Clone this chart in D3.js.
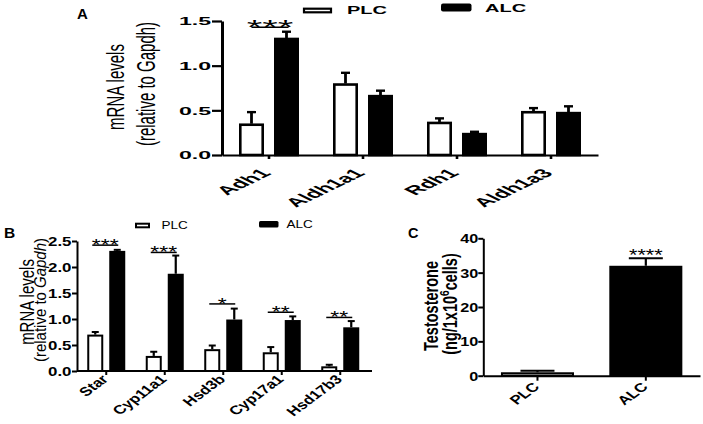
<!DOCTYPE html>
<html><head><meta charset="utf-8">
<script src="https://cdn.jsdelivr.net/npm/d3@7"></script>
<style>html,body{margin:0;padding:0;background:#fff;}svg{display:block;}</style>
</head><body>
<svg id="chart" width="703" height="424"></svg>
<script>
// ---------- DATA ----------
const groups = ["PLC", "ALC"];

// Panel A
const genesA = ["Adh1", "Aldh1a1", "Rdh1", "Aldh1a3"];
const plcA = [0.35, 0.80, 0.37, 0.49];
const plcAErr = [0.13, 0.12, 0.04, 0.035];
const alcA = [1.31, 0.67, 0.245, 0.48];
const alcAErr = [0.07, 0.05, 0.015, 0.065];
const sigA = ["***", "", "", ""];
const sigALevel = [1.43, null, null, null];
const ticksA = [0, 0.5, 1.0, 1.5];

// Panel B
const genesB = ["Star", "Cyp11a1", "Hsd3b", "Cyp17a1", "Hsd17b3"];
const plcB = [0.70, 0.29, 0.42, 0.36, 0.09];
const plcBErr = [0.05, 0.08, 0.07, 0.10, 0.03];
const alcB = [2.31, 1.87, 0.99, 0.98, 0.84];
const alcBErr = [0.02, 0.35, 0.21, 0.07, 0.12];
const sigB = ["***", "***", "*", "**", "**"];
const sigBLevel = [2.42, 2.28, 1.29, 1.13, 1.03];
const ticksB = [0, 0.5, 1.0, 1.5, 2.0, 2.5];

// Panel C
const groupsC = ["PLC", "ALC"];
const testoC = [1.0, 32.0];
const testoCErr = [0.45, 2.2];
const sigC = ["", "****"];
const ticksC = [0, 10, 20, 30, 40];

// ---------- HELPERS ----------
const FONT = "'Liberation Sans', Arial, Helvetica, sans-serif";
const svg = d3.select("#chart");

// stretched (x-scale) and rotated text transform as one matrix
function tmat(x, y, sx, deg) {
  const r = (deg || 0) * Math.PI / 180, c = Math.cos(r), s = Math.sin(r);
  const f = v => (Math.abs(v) < 1e-9 ? 0 : +v.toFixed(5));
  return `matrix(${f(sx * c)},${f(s)},${f(-sx * s)},${f(c)},${f(x)},${f(y)})`;
}

function stext(parent, x, y, str, o) {
  const t = parent.append("text")
    .attr("text-anchor", o.anchor || "start")
    .attr("font-size", o.size)
    .attr("font-weight", o.weight || "normal")
    .attr("font-family", FONT)
    .attr("fill", "#000")
    .attr("transform", tmat(x, y, o.sx || 1, o.rotate || 0));
  if (Array.isArray(str)) {
    str.forEach(p => {
      const ts = t.append("tspan").text(p.t);
      if (p.italic) ts.attr("font-style", "italic");
      if (p.sup) ts.attr("baseline-shift", "super").attr("font-size", o.size * 0.7);
    });
  } else t.text(str);
  return t;
}

function styleYAxis(g, o) {
  g.select(".domain").attr("stroke", "#000").attr("stroke-width", o.axisW);
  g.selectAll(".tick line").attr("stroke", "#000").attr("stroke-width", o.tickW);
  g.selectAll(".tick text")
    .attr("font-family", FONT).attr("font-weight", "bold").attr("font-size", o.size)
    .attr("fill", "#000")
    .attr("x", 0).attr("dy", "0.36em")
    .attr("transform", tmat(-(o.tick + o.pad), 0, o.sx, 0));
}

function styleXAxis(g, o) {
  g.select(".domain").attr("stroke", "#000").attr("stroke-width", o.axisW);
  g.selectAll(".tick line").attr("stroke", "#000").attr("stroke-width", o.tickW);
  g.selectAll(".tick text")
    .attr("font-family", FONT).attr("font-weight", "bold").attr("font-size", o.size)
    .attr("fill", "#000")
    .attr("text-anchor", "end")
    .attr("x", 0).attr("y", 0).attr("dy", 0)
    .attr("transform", tmat(o.dx, o.dy, o.sx, -45));
}

function groupedBars(g, genes, plc, plcErr, alc, alcErr, x0, x1, y, o) {
  const data = genes.map((k, i) => ({ k, i, vals: [
    { grp: "PLC", v: plc[i], e: plcErr[i] },
    { grp: "ALC", v: alc[i], e: alcErr[i] }
  ]}));
  const gg = g.selectAll("g.grp").data(data).join("g").attr("class", "grp")
    .attr("transform", d => `translate(${x0(d.k)},0)`);
  const bw = x1.bandwidth();
  gg.selectAll("line.err").data(d => d.vals).join("line").attr("class", "err")
    .attr("x1", d => x1(d.grp) + bw / 2).attr("x2", d => x1(d.grp) + bw / 2)
    .attr("y1", d => y(d.v)).attr("y2", d => y(d.v + d.e))
    .attr("stroke", "#000").attr("stroke-width", o.errW);
  gg.selectAll("line.cap").data(d => d.vals).join("line").attr("class", "cap")
    .attr("x1", d => x1(d.grp) + bw / 2 - o.cap / 2).attr("x2", d => x1(d.grp) + bw / 2 + o.cap / 2)
    .attr("y1", d => y(d.v + d.e)).attr("y2", d => y(d.v + d.e))
    .attr("stroke", "#000").attr("stroke-width", o.capW);
  gg.selectAll("rect").data(d => d.vals).join("rect")
    .attr("x", d => x1(d.grp) + o.sw / 2)
    .attr("width", bw - o.sw)
    .attr("y", d => y(d.v) + o.swh / 2)
    .attr("height", d => Math.max(0, y(0) - y(d.v) - o.swh / 2))
    .attr("fill", d => d.grp === "PLC" ? "#fff" : "#000")
    .attr("stroke", "#000").attr("stroke-width", o.sw);
}

function sigMarks(g, genes, sig, level, x0, x1, y, o) {
  const bw = x1.bandwidth();
  genes.forEach((k, i) => {
    if (!sig[i]) return;
    const xa = x0(k) + x1("PLC") + bw / 2 + o.l;
    const xb = x0(k) + x1("ALC") + bw / 2 + o.r;
    const ly = y(level[i]);
    g.append("line").attr("x1", xa).attr("x2", xb).attr("y1", ly).attr("y2", ly)
      .attr("stroke", "#000").attr("stroke-width", o.lw);
    stext(g, (xa + xb) / 2, ly + o.ty, sig[i], { size: o.size, sx: o.sx, anchor: "middle" });
  });
}

// ---------- PANEL A ----------
{
  const g = svg.append("g");
  const y = d3.scaleLinear([0, 1.5], [155, 21]);
  const x0 = d3.scaleBand(genesA, [222, 598]);
  const x1 = d3.scaleBand(groups, [0, x0.bandwidth()]).paddingInner(10 / 35).paddingOuter(17 / 35);

  groupedBars(g, genesA, plcA, plcAErr, alcA, alcAErr, x0, x1, y,
    { sw: 2.6, swh: 2, errW: 2.8, capW: 2.4, cap: 9 });

  const ya = g.append("g").attr("transform", "translate(222,0)")
    .call(d3.axisLeft(y).tickValues(ticksA).tickFormat(d3.format(".1f")).tickSize(10).tickSizeOuter(0).tickPadding(1));
  styleYAxis(ya, { axisW: 3, tickW: 2.2, size: 10.5, sx: 2.2, tick: 10, pad: 1 });

  const xa = g.append("g").attr("transform", "translate(0,155)")
    .call(d3.axisBottom(x0).tickSize(4).tickSizeOuter(0));
  styleXAxis(xa, { axisW: 2, tickW: 2.6, size: 12.3, sx: 2.07, dx: 3, dy: 19 });

  sigMarks(g, genesA, sigA, sigALevel, x0, x1, y, { l: 0, r: 2, lw: 1.6, size: 20, sx: 2, ty: 7 });

  // y label
  stext(g, 124, 87, "mRNA levels", { size: 15, sx: 1.6, rotate: -90, anchor: "middle" });
  stext(g, 155, 84, "(relative to Gapdh)", { size: 15, sx: 1.7, rotate: -90, anchor: "middle" });

  // legend
  g.append("rect").attr("x", 304).attr("y", 8.7).attr("width", 27).attr("height", 3.6)
    .attr("fill", "#fff").attr("stroke", "#000").attr("stroke-width", 2.2);
  stext(g, 347, 14, groups[0], { size: 10, sx: 2, weight: "bold" });
  g.append("rect").attr("x", 441).attr("y", 3.5).attr("width", 30.5).attr("height", 8).attr("rx", 2)
    .attr("fill", "#000");
  stext(g, 485, 11.7, groups[1], { size: 10, sx: 2, weight: "bold" });

  stext(g, 77, 19, "A", { size: 15, weight: "bold" });
}

// ---------- PANEL B ----------
{
  const g = svg.append("g");
  const y = d3.scaleLinear([0, 2.5], [371, 241]);
  const x0 = d3.scaleBand(genesB, [77, 369.5]);
  const x1 = d3.scaleBand(groups, [0, x0.bandwidth()]).paddingInner(6 / 22).paddingOuter(10.25 / 22);

  groupedBars(g, genesB, plcB, plcBErr, alcB, alcBErr, x0, x1, y,
    { sw: 2, swh: 2, errW: 2.2, capW: 2, cap: 7 });

  const ya = g.append("g").attr("transform", "translate(77,0)")
    .call(d3.axisLeft(y).tickValues(ticksB).tickFormat(d3.format(".1f")).tickSize(5).tickSizeOuter(0).tickPadding(1));
  styleYAxis(ya, { axisW: 2, tickW: 2, size: 12.5, sx: 1.35, tick: 5, pad: 0.5 });

  const xa = g.append("g").attr("transform", "translate(0,371)")
    .call(d3.axisBottom(x0).tickSize(4).tickSizeOuter(0));
  xa.select(".domain").attr("d", "M77,0H372");
  styleXAxis(xa, { axisW: 2, tickW: 2, size: 12.5, sx: 1.35, dx: 3, dy: 9 });

  sigMarks(g, genesB, sigB, sigBLevel, x0, x1, y, { l: -3, r: 1, lw: 1.5, size: 17, sx: 1.35, ty: 6 });

  stext(g, 34, 302, "mRNA levels", { size: 15, sx: 1.3, rotate: -90, anchor: "middle" });
  stext(g, 46, 300, [{ t: "(relative to " }, { t: "Gapdh", italic: true }, { t: ")" }],
    { size: 15, sx: 1.1, rotate: -90, anchor: "middle" });

  // legend
  g.append("rect").attr("x", 136).attr("y", 223.7).attr("width", 13).attr("height", 3.6)
    .attr("fill", "#fff").attr("stroke", "#000").attr("stroke-width", 2);
  stext(g, 161.5, 229, groups[0], { size: 10, sx: 1.35 });
  g.append("rect").attr("x", 259).attr("y", 221).attr("width", 19.5).attr("height", 6.5).attr("rx", 1.5)
    .attr("fill", "#000");
  stext(g, 286.5, 227.5, groups[1], { size: 10, sx: 1.35 });

  stext(g, 4, 238, "B", { size: 15.5, weight: "bold" });
}

// ---------- PANEL C ----------
{
  const g = svg.append("g");
  const y = d3.scaleLinear([0, 40], [375.7, 238.3]);
  const x = d3.scaleBand(groupsC, [483.3, 700]).paddingInner(0.326).paddingOuter(0.163);
  const data = groupsC.map((k, i) => ({ k, v: testoC[i], e: testoCErr[i], s: sigC[i] }));

  g.selectAll("line.err").data(data).join("line").attr("class", "err")
    .attr("x1", d => x(d.k) + x.bandwidth() / 2).attr("x2", d => x(d.k) + x.bandwidth() / 2)
    .attr("y1", d => y(d.v)).attr("y2", d => y(d.v + d.e))
    .attr("stroke", "#000").attr("stroke-width", 2.2);
  g.selectAll("line.cap").data(data).join("line").attr("class", "cap")
    .attr("x1", d => x(d.k) + x.bandwidth() / 2 - 17).attr("x2", d => x(d.k) + x.bandwidth() / 2 + 17)
    .attr("y1", d => y(d.v + d.e)).attr("y2", d => y(d.v + d.e))
    .attr("stroke", "#000").attr("stroke-width", 2);
  g.selectAll("rect.bar").data(data).join("rect").attr("class", "bar")
    .attr("x", d => x(d.k) + 1).attr("width", x.bandwidth() - 2)
    .attr("y", d => y(d.v) + 1).attr("height", d => y(0) - y(d.v) - 1)
    .attr("fill", d => d.k === "PLC" ? "#fff" : "#000")
    .attr("stroke", "#000").attr("stroke-width", 2);

  data.forEach(d => {
    if (!d.s) return;
    stext(g, x(d.k) + x.bandwidth() / 2, y(d.v + d.e) + 3, d.s, { size: 16, sx: 1.35, anchor: "middle" });
  });

  const ya = g.append("g").attr("transform", "translate(483.3,0)")
    .call(d3.axisLeft(y).tickValues(ticksC).tickFormat(d3.format("d")).tickSize(5).tickSizeOuter(0).tickPadding(1));
  styleYAxis(ya, { axisW: 2, tickW: 2, size: 12.5, sx: 1.3, tick: 5, pad: 0 });

  const xa = g.append("g").attr("transform", "translate(0,375.7)")
    .call(d3.axisBottom(x).tickSize(5).tickSizeOuter(0));
  styleXAxis(xa, { axisW: 2, tickW: 2, size: 12.5, sx: 1.35, dx: 3, dy: 12 });

  stext(g, 438, 306, "Testosterone", { size: 14.5, sx: 1.35, rotate: -90, anchor: "middle", weight: "bold" });
  stext(g, 457, 304, [{ t: "(ng/1x10" }, { t: "6", sup: true }, { t: "cells)" }],
    { size: 14.5, sx: 1.35, rotate: -90, anchor: "middle", weight: "bold" });

  stext(g, 408, 238.3, "C", { size: 14.5, weight: "bold" });
}
</script>
</body></html>
